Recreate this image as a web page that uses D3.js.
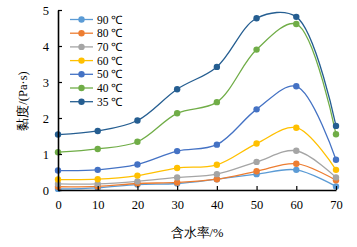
<!DOCTYPE html>
<html>
<head>
<meta charset="utf-8">
<script src="https://cdn.jsdelivr.net/npm/d3@7"></script>
<style>
  body { margin: 0; background: #fff; }
  svg { display: block; }
</style>
</head>
<body>
<svg id="chart" width="357" height="247"></svg>
<script>
// Water content (%) on the x axis
const waterContent = [0, 10, 20, 30, 40, 50, 60, 70];

// Series names and colours, in legend order
const seriesNames = ["90 ℃", "80 ℃", "70 ℃", "60 ℃", "50 ℃", "40 ℃", "35 ℃"];
const seriesColors = ["#5b9bd5", "#ed7d31", "#a5a5a5", "#ffc000", "#4472c4", "#70ad47", "#255e91"];

// Viscosity (Pa·s) per series
const visc90 = [0.03, 0.06, 0.15, 0.18, 0.30, 0.44, 0.56, 0.10];
const visc80 = [0.09, 0.10, 0.18, 0.21, 0.30, 0.52, 0.73, 0.27];
const visc70 = [0.17, 0.17, 0.24, 0.35, 0.44, 0.78, 1.09, 0.35];
const visc60 = [0.29, 0.30, 0.40, 0.61, 0.70, 1.29, 1.73, 0.56];
const visc50 = [0.54, 0.56, 0.71, 1.08, 1.26, 2.24, 2.88, 0.84];
const visc40 = [1.05, 1.14, 1.34, 2.13, 2.44, 3.90, 4.61, 1.55];
const visc35 = [1.54, 1.64, 1.93, 2.80, 3.42, 4.77, 4.81, 1.78];

const seriesValues = [visc90, visc80, visc70, visc60, visc50, visc40, visc35];

const xTicks = [0, 10, 20, 30, 40, 50, 60, 70];
const yTicks = [0, 1, 2, 3, 4, 5];

const svg = d3.select("svg#chart");
const font = "'Liberation Serif', 'Times New Roman', serif";

// Plot area edges
const plotLeft = 58, plotRight = 336, plotTop = 10, plotBottom = 190;

const x = d3.scaleLinear().domain([0, 70]).range([plotLeft, plotRight]);
const y = d3.scaleLinear().domain([0, 5]).range([plotBottom, plotTop]);

// Smoothed lines with markers
const line = d3.line()
    .x((d, i) => x(waterContent[i]))
    .y(d => y(d))
    .curve(d3.curveCatmullRom);

const seriesG = svg.append("g");
seriesValues.forEach(function(vals, k) {
  const g = seriesG.append("g");
  g.append("path")
    .attr("d", line(vals))
    .attr("fill", "none")
    .attr("stroke", seriesColors[k])
    .attr("stroke-width", 1.3);
  g.selectAll("circle")
    .data(vals)
    .enter()
    .append("circle")
    .attr("cx", (d, i) => x(waterContent[i]))
    .attr("cy", d => y(d))
    .attr("r", 3.2)
    .attr("fill", seriesColors[k]);
});

// Axes
const xAxis = d3.axisBottom(x).tickValues(xTicks).tickFormat(d3.format("d"))
    .tickSizeInner(-4).tickSizeOuter(0).tickPadding(10);
const yAxis = d3.axisLeft(y).tickValues(yTicks).tickFormat(d3.format("d"))
    .tickSizeInner(-4).tickSizeOuter(0).tickPadding(9);

const gx = svg.append("g")
    .attr("transform", "translate(0," + plotBottom + ")")
    .call(xAxis);
const gy = svg.append("g")
    .attr("transform", "translate(" + plotLeft + ",0)")
    .call(yAxis);

[gx, gy].forEach(function(g) {
  g.attr("font-family", font).attr("font-size", 12.5);
  g.select(".domain").attr("stroke", "#000").attr("stroke-width", 1.6);
  g.selectAll(".tick line").attr("stroke", "#000").attr("stroke-width", 1.2);
  g.selectAll(".tick text").attr("fill", "#000");
});

// Axis titles
svg.append("text")
    .attr("x", (plotLeft + plotRight) / 2)
    .attr("y", 237)
    .attr("text-anchor", "middle")
    .style("font-family", font)
    .style("font-size", "12.5px")
    .text("含水率/%");

svg.append("text")
    .attr("transform", "translate(27," + 101 + ") rotate(-90)")
    .attr("text-anchor", "middle")
    .style("font-family", font)
    .style("font-size", "12.5px")
    .text("黏度/(Pa·s)");

// Legend
const legend = svg.append("g").attr("transform", "translate(70,19.5)");
seriesNames.forEach(function(name, k) {
  const item = legend.append("g").attr("transform", "translate(0," + (k * 13.7) + ")");
  item.append("line")
    .attr("x1", 0).attr("x2", 23)
    .attr("stroke", seriesColors[k])
    .attr("stroke-width", 1.3);
  item.append("circle")
    .attr("cx", 11.5).attr("r", 3.2)
    .attr("fill", seriesColors[k]);
  item.append("text")
    .attr("x", 27)
    .attr("y", 4)
    .style("font-family", font)
    .style("font-size", "11.5px")
    .text(name);
});
</script>
</body>
</html>
